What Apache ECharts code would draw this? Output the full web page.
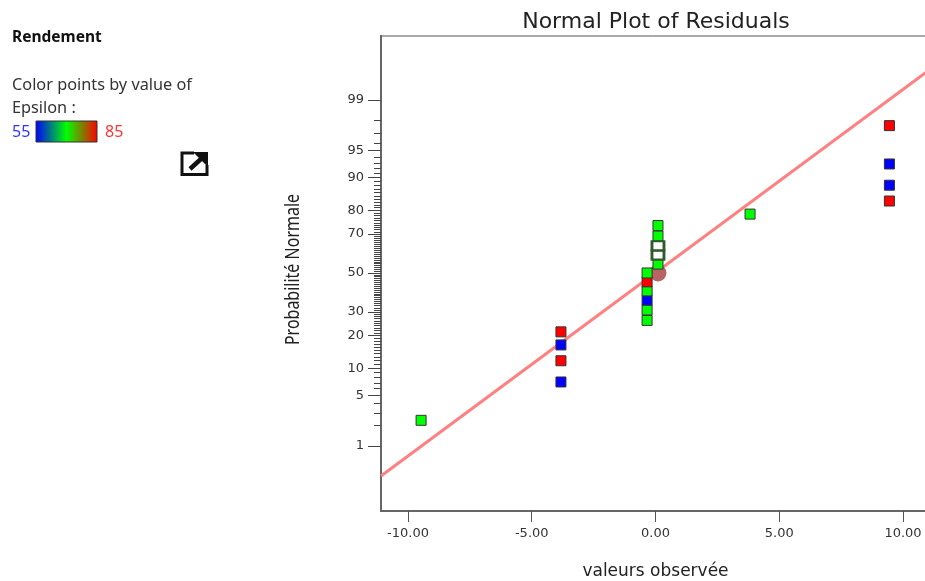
<!DOCTYPE html>
<html><head><meta charset="utf-8">
<style>html,body{margin:0;padding:0;background:#fff;overflow:hidden}#c{width:925px;height:581px}</style>
<script src="https://cdn.jsdelivr.net/npm/echarts@6/dist/echarts.min.js"></script>
</head><body><div id="c"></div>
<script>
// Residual values
const observed = [-9.47,-3.82,-3.82,-3.82,-3.82,-0.34,-0.34,-0.34,-0.34,-0.34,-0.34,0.1,0.1,0.1,0.1,0.1,3.82,9.45,9.45,9.45,9.45];
const probability = [2.38,7.14,11.9,16.67,21.43,26.19,30.95,35.71,40.48,45.24,50,54.76,59.52,64.29,69.05,73.81,78.57,83.33,88.1,92.86,97.62];
const epsilon = [70,55,85,55,85,70,70,55,70,85,70,70,null,null,70,70,70,85,55,55,85];
const fitX = [-11.09,11.09];
const fitP = [0.317,99.69];
const centerPoint = [[0.1,50]];
const xTicks = [-10,-5,0,5,10];
const yLabels = [1,5,10,20,30,50,70,80,90,95,99];
const yMinorTicks = [1,2,3,4,5,6,7,8,9,10,11,12,13,14,15,16,17,18,19,20,21,22,23,24,25,26,27,28,29,30,31,32,33,34,35,36,37,38,39,40,41,42,43,44,45,46,47,48,49,50,51,52,53,54,55,56,57,58,59,60,61,62,63,64,65,66,67,68,69,70,71,72,73,74,75,76,77,78,79,80,81,82,83,84,85,86,87,88,89,90,91,92,93,94,95,96,97,98,99];

function probit(pct){
  const p=pct/100;
  const a=[-39.69683028665376,220.9460984245205,-275.9285104469687,138.3577518672690,-30.66479806614716,2.506628277459239];
  const b=[-54.47609879822406,161.5858368580409,-155.6989798598866,66.80131188771972,-13.28068155288572];
  const c=[-0.007784894002430293,-0.3223964580411365,-2.400758277161838,-2.549732539343734,4.374664141464968,2.938163982698783];
  const d=[0.007784695709041462,0.3224671290700398,2.445134137142996,3.754408661907416];
  const tail=q=>(((((c[0]*q+c[1])*q+c[2])*q+c[3])*q+c[4])*q+c[5])/((((d[0]*q+d[1])*q+d[2])*q+d[3])*q+1);
  if(p<0.02425) return tail(Math.sqrt(-2*Math.log(p)));
  if(p>1-0.02425) return -tail(Math.sqrt(-2*Math.log(1-p)));
  const q=p-0.5,r=q*q;
  return (((((a[0]*r+a[1])*r+a[2])*r+a[3])*r+a[4])*r+a[5])*q/(((((b[0]*r+b[1])*r+b[2])*r+b[3])*r+b[4])*r+1);
}
const epsColor=e=>e===55?'#0000ff':e===85?'#ff0000':'#00ff00';
const points=observed.map((x,i)=>({x,p:probability[i],e:epsilon[i]}));
const sq=points.filter(d=>d.e!==null);
const hollow=points.filter(d=>d.e===null);
const zMin=-3.2,zMax=3.186;
const txt='"Noto Sans","Open Sans",sans-serif';
const yAxisBase={type:'value',position:'left',min:zMin,max:zMax,splitLine:{show:false},
  axisLine:{show:true,onZero:false,lineStyle:{color:'#666',width:2}}};

const chart=echarts.init(document.getElementById('c'),null,{renderer:'canvas'});
chart.setOption({
  animation:false,
  backgroundColor:'#fff',
  title:{text:'Normal Plot of Residuals',left:651,top:6,textAlign:'center',
    textStyle:{fontFamily:'DejaVu Sans',fontWeight:'normal',fontSize:22,color:'#222'}},
  grid:{left:381,top:36,width:549,height:475,show:true,borderColor:'#555',borderWidth:1,backgroundColor:'transparent',outerBoundsMode:'none',containLabel:false},
  xAxis:{type:'value',min:-11.09,max:11.09,name:'valeurs observée',nameLocation:'middle',nameGap:52,
    nameTextStyle:{fontFamily:'DejaVu Sans',fontSize:17,color:'#222'},
    splitLine:{show:false},
    axisLine:{onZero:false,lineStyle:{color:'#666',width:2}},
    axisTick:{length:11,lineStyle:{color:'#555',width:1},customValues:xTicks},
    axisLabel:{customValues:xTicks,margin:16,fontFamily:'DejaVu Sans',fontSize:13,color:'#333',formatter:v=>v.toFixed(2)}},
  yAxis:[
    Object.assign({},yAxisBase,{
      axisTick:{length:13,lineStyle:{color:'#444',width:1},customValues:yLabels.map(probit)},
      axisLabel:{customValues:yLabels.map(probit),margin:17,fontFamily:'DejaVu Sans',fontSize:13,color:'#333',
        formatter:(v)=>{let best=yLabels[0];yLabels.forEach(l=>{if(Math.abs(probit(l)-v)<Math.abs(probit(best)-v))best=l;});return String(best);}}}),
    Object.assign({},yAxisBase,{
      axisTick:{length:7,lineStyle:{color:'#444',width:1},customValues:yMinorTicks.map(probit)},
      axisLabel:{show:false}})
  ],
  series:[
    {type:'line',silent:true,z:2,symbol:'none',clip:true,
      data:fitX.map((x,i)=>[x,probit(fitP[i])]),lineStyle:{color:'#ff8080',width:3}},
    {type:'scatter',silent:true,z:3,symbol:'circle',symbolSize:17,
      data:centerPoint.map(d=>[d[0],probit(d[1])]),itemStyle:{color:'#b86464',opacity:1}},
    {type:'scatter',silent:true,z:4,symbol:'rect',symbolSize:10,
      data:sq.map(d=>({value:[d.x,probit(d.p)],itemStyle:{color:epsColor(d.e)}})),
      itemStyle:{borderColor:'#333',borderWidth:1,opacity:1}},
    {type:'scatter',silent:true,z:5,symbol:'rect',symbolSize:[12,9],
      data:hollow.map(d=>[d.x,probit(d.p)]),
      itemStyle:{color:'#fff',borderColor:'#2e5a2e',borderWidth:2.5,opacity:1}}
  ],
  graphic:[
    {type:'text',x:293,y:269.5,rotation:Math.PI/2,scaleX:0.8,style:{text:'Probabilité Normale',fontFamily:txt,fontSize:20,fill:'#222',align:'center',verticalAlign:'middle'}},
    {type:'text',left:12,top:30,style:{text:'Rendement',fontFamily:txt,fontWeight:'bold',fontSize:15.5,fill:'#111'}},
    {type:'text',left:12,top:77,style:{text:'Color points by value of',fontFamily:txt,fontSize:16.3,fill:'#333'}},
    {type:'text',left:12,top:100,style:{text:'Epsilon :',fontFamily:txt,fontSize:16.3,fill:'#333'}},
    {type:'text',left:12,top:124,style:{text:'55',fontFamily:txt,fontSize:16,fill:'#3333ff'}},
    {type:'text',left:105,top:124,style:{text:'85',fontFamily:txt,fontSize:16,fill:'#ff3333'}},
    {type:'rect',shape:{x:36,y:121,width:61,height:21},style:{
      fill:new echarts.graphic.LinearGradient(0,0,1,0,[{offset:0,color:'#0000ff'},{offset:0.5,color:'#00ff00'},{offset:1,color:'#ff0000'}]),
      stroke:'#333',lineWidth:1}},
    {type:'polyline',shape:{points:[[194,153],[182,153],[182,174.5],[207,174.5],[207,165]]},style:{fill:null,stroke:'#111',lineWidth:3}},
    {type:'polygon',shape:{points:[[193,152],[208,152],[208,167]]},style:{fill:'#111'}},
    {type:'line',shape:{x1:190,y1:169,x2:202,y2:158},style:{stroke:'#111',lineWidth:4.5}}
  ]
});
</script></body></html>
